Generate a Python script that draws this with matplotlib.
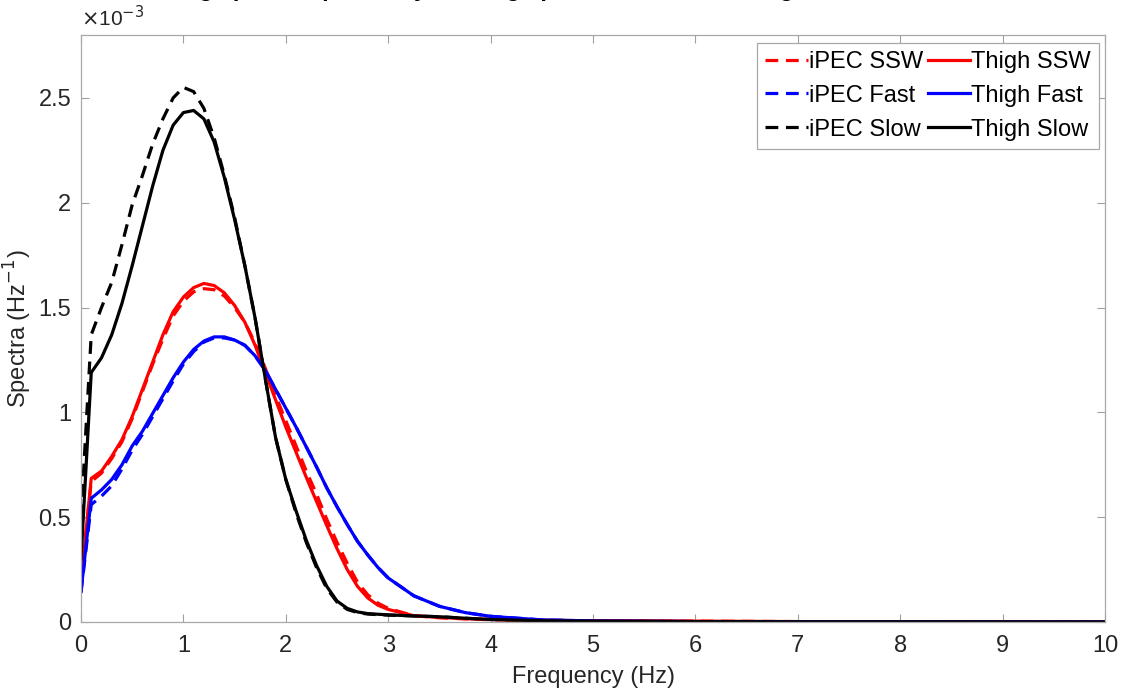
import numpy as np
import matplotlib
matplotlib.use("Agg")
import matplotlib.pyplot as plt
from matplotlib.ticker import FuncFormatter, MultipleLocator

plt.rcParams['font.family'] = ['Liberation Sans', 'DejaVu Sans']

# frequency grid (Hz)
freq = [0, 0.1, 0.2, 0.3, 0.4, 0.5, 0.6, 0.7, 0.8, 0.9,
        1.0, 1.1, 1.2, 1.3, 1.4, 1.5, 1.6, 1.7, 1.8, 1.9,
        2.0, 2.1, 2.2, 2.3, 2.4, 2.5, 2.6, 2.7, 2.8, 2.9,
        3.0, 3.25, 3.5, 3.75, 4.0, 4.5, 5, 6, 7, 8, 9, 10]

# spectra, units of 1e-3 Hz^-1
ipec_ssw = [0.20, 0.67, 0.71, 0.78, 0.86, 0.97, 1.10, 1.23, 1.35, 1.46,
            1.53, 1.575, 1.59, 1.585, 1.555, 1.50, 1.43, 1.33, 1.21, 1.08,
            0.96, 0.84, 0.72, 0.61, 0.49, 0.38, 0.28, 0.19, 0.13, 0.09,
            0.065, 0.03, 0.02, 0.015, 0.011, 0.008, 0.006, 0.004, 0.002, 0.001, 0.0006, 0.0003]
thigh_ssw = [0.19, 0.685, 0.72, 0.79, 0.87, 0.98, 1.11, 1.24, 1.37, 1.48,
             1.55, 1.595, 1.615, 1.605, 1.57, 1.51, 1.43, 1.32, 1.19, 1.06,
             0.93, 0.81, 0.69, 0.575, 0.46, 0.35, 0.25, 0.17, 0.115, 0.08,
             0.06, 0.03, 0.022, 0.016, 0.012, 0.008, 0.006, 0.004, 0.002, 0.001, 0.0006, 0.0003]
ipec_fast = [0.14, 0.56, 0.60, 0.65, 0.73, 0.82, 0.895, 0.98, 1.065, 1.15,
             1.23, 1.29, 1.335, 1.355, 1.355, 1.345, 1.32, 1.27, 1.20, 1.11,
             1.02, 0.93, 0.835, 0.74, 0.64, 0.55, 0.465, 0.385, 0.32, 0.26,
             0.21, 0.125, 0.075, 0.045, 0.027, 0.01, 0.005, 0.002, 0.001, 0.0006, 0.0004, 0.0002]
thigh_fast = [0.145, 0.59, 0.63, 0.68, 0.75, 0.84, 0.91, 0.995, 1.08, 1.165,
              1.24, 1.30, 1.34, 1.36, 1.36, 1.345, 1.32, 1.27, 1.20, 1.11,
              1.02, 0.93, 0.835, 0.74, 0.64, 0.55, 0.465, 0.385, 0.32, 0.26,
              0.21, 0.125, 0.075, 0.045, 0.027, 0.01, 0.005, 0.002, 0.001, 0.0006, 0.0004, 0.0002]
ipec_slow = [0.50, 1.37, 1.50, 1.62, 1.80, 1.99, 2.13, 2.28, 2.40, 2.50,
             2.55, 2.53, 2.45, 2.31, 2.13, 1.93, 1.70, 1.45, 1.16, 0.88,
             0.68, 0.52, 0.38, 0.26, 0.16, 0.095, 0.06, 0.045, 0.038, 0.035,
             0.033, 0.029, 0.025, 0.018, 0.012, 0.006, 0.004, 0.002, 0.001, 0.0008, 0.0005, 0.0003]
thigh_slow = [0.30, 1.19, 1.26, 1.37, 1.52, 1.70, 1.89, 2.08, 2.25, 2.37,
              2.43, 2.44, 2.40, 2.29, 2.12, 1.92, 1.70, 1.45, 1.16, 0.88,
              0.68, 0.53, 0.39, 0.27, 0.17, 0.10, 0.065, 0.048, 0.040, 0.037,
              0.034, 0.029, 0.025, 0.018, 0.012, 0.006, 0.004, 0.002, 0.001, 0.0008, 0.0005, 0.0003]

f = np.array(freq)
scale = 1e-3

fig = plt.figure(figsize=(11.23, 6.91), dpi=100)
ax = fig.add_axes([81/1123, 1 - 622/691, 1024/1123, 587/691])

lw = 2.3
dash = (4, 2.4)
h1, = ax.plot(f, np.array(ipec_ssw) * scale, color='#ff0000', lw=lw, ls='--', dashes=dash)
h2, = ax.plot(f, np.array(ipec_fast) * scale, color='#0000ff', lw=lw, ls='--', dashes=dash)
h3, = ax.plot(f, np.array(ipec_slow) * scale, color='black', lw=lw, ls='--', dashes=dash)
h4, = ax.plot(f, np.array(thigh_ssw) * scale, color='#ff0000', lw=lw)
h5, = ax.plot(f, np.array(thigh_fast) * scale, color='#0000ff', lw=lw)
h6, = ax.plot(f, np.array(thigh_slow) * scale, color='black', lw=lw)

ax.set_xlim(0, 10)
ax.set_ylim(0, 2.8e-3)
ax.xaxis.set_major_locator(MultipleLocator(1))
ax.yaxis.set_major_locator(MultipleLocator(0.5e-3))
ax.yaxis.set_major_formatter(FuncFormatter(lambda v, p: '%g' % round(v / scale, 3)))

ax.tick_params(direction='in', top=True, right=True, length=6, width=0.8,
               color='#a0a0a0', labelsize=17, labelcolor='#262626')
ax.tick_params(axis='x', pad=9)
ax.tick_params(axis='y', pad=7)
for s in ax.spines.values():
    s.set_color('#a8a8a8')
    s.set_linewidth(0.9)

ax.set_xlabel('Frequency (Hz)', fontsize=17, color='#262626', labelpad=7)
ax.set_ylabel('Spectra (Hz$^{-1}$)', fontsize=17, color='#262626', labelpad=3)
ax.text(0.0, 1.008, r'$\times$10$^{-3}$', transform=ax.transAxes, fontsize=15,
        color='#262626', ha='left', va='bottom')

leg = ax.legend([h1, h2, h3, h4, h5, h6],
                ['iPEC SSW', 'iPEC Fast', 'iPEC Slow', 'Thigh SSW', 'Thigh Fast', 'Thigh Slow'],
                ncol=2, loc='upper right', bbox_to_anchor=(0.9945, 0.987),
                fontsize=17, fancybox=False, framealpha=1, edgecolor='#a8a8a8',
                handlelength=1.8, handletextpad=0.05, columnspacing=0.2,
                labelspacing=0.5, borderpad=0.35, borderaxespad=0)
leg.get_frame().set_linewidth(0.9)

# title sits mostly above the visible area, as in the source image
fig.text(0.5, 1 + 4/691, 'Average power spectra by walking speed for iPEC and thigh accelerometers',
         fontsize=17, fontweight='bold', ha='center', va='baseline')

fig.savefig('out.png', dpi=100)
